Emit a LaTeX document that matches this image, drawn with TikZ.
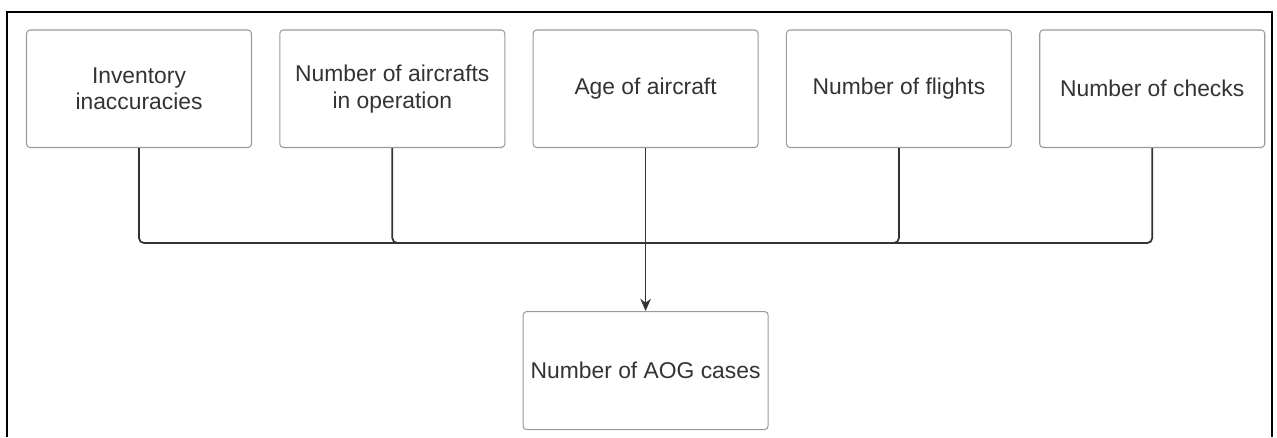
\documentclass[tikz,border=0pt]{standalone}
\usepackage{fontspec}
\setmainfont{Liberation Sans}
\usepackage{xcolor}
\usetikzlibrary{positioning, calc, arrows.meta}
\definecolor{inktext}{HTML}{333333}
\definecolor{boxline}{HTML}{9A9A9A}

\begin{document}
\begin{tikzpicture}[
    node distance=0.545cm,
    factor/.style={rectangle, draw=boxline, line width=0.6pt, rounded corners=2pt, text=inktext, font=\fontsize{13}{15.2}\selectfont, align=center, minimum width=4.5cm, minimum height=2.35cm, inner sep=0pt},
    result/.style={factor, minimum width=4.9cm, minimum height=2.36cm},
    link/.style={draw=inktext, line width=1pt, rounded corners=0.1cm},
    arrow/.style={link, -{Stealth[length=7pt, width=6pt]}}
]
    \useasboundingbox (0,0) rectangle (25.54,-8.74);
    % outer frame, open at the bottom
    \draw[line width=0.9pt] (0.14,-8.74) -- (0.14,-0.24) -- (25.44,-0.24) -- (25.44,-8.74);

    \node [factor] (inv) at (2.78,-1.775) {Inventory\\inaccuracies};
    \node [factor, right=of inv] (fleet) {Number of aircrafts\\in operation};
    \node [factor, right=of fleet] (age) {Age of aircraft};
    \node [factor, right=of age] (flights) {Number of flights};
    \node [factor, right=of flights] (checks) {Number of checks};
    \node [result, below=3.26cm of age] (aog) {Number of AOG cases};

    \coordinate (bus) at ($(age.south)+(0,-1.9)$);

    \draw [link] (inv.south) |- (bus);
    \draw [link] (fleet.south) |- (bus);
    \draw [link] (flights.south) |- (bus);
    \draw [link] (checks.south) |- (bus);
    \draw [arrow] (age.south) -- (aog.north);
\end{tikzpicture}
\end{document}
